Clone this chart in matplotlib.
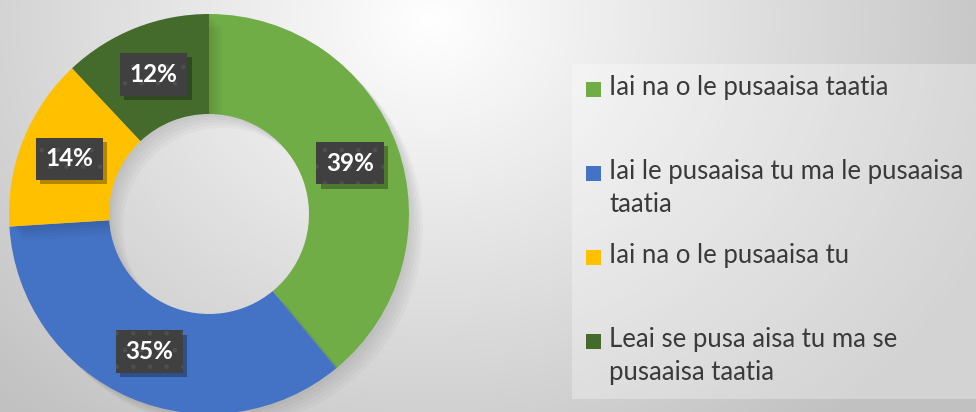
import textwrap
import numpy as np
import matplotlib
matplotlib.use("Agg")
import matplotlib.pyplot as plt
import matplotlib.patheffects as pe
from matplotlib.patches import Rectangle

# ---- data ----
categories = [
    "Iai na o le pusaaisa taatia",
    "Iai le pusaaisa tu ma le pusaaisa taatia",
    "Iai na o le pusaaisa tu",
    "Leai se pusa aisa tu ma se pusaaisa taatia",
]
values = [39, 35, 14, 12]
colors = ["#70AD47", "#4472C4", "#FFC000", "#446A2C"]


class NoHatchShadow(pe.SimplePatchShadow):
    def _update_gc(self, gc, new_gc_dict):
        gc = super()._update_gc(gc, new_gc_dict)
        gc.set_hatch(None)
        return gc


plt.rcParams["hatch.linewidth"] = 0.8
W, H = 976, 412
fig = plt.figure(figsize=(W / 100, H / 100), dpi=100)
ax = fig.add_axes([0, 0, 1, 1])
ax.set_axis_off()

# background radial gradient (y measured from top)
yy, xx = np.mgrid[0:H, 0:W]
d = np.hypot(xx - 430, (yy - 20) / 0.85)
g = np.clip(1.0 - d / 560 * 0.22, 0.76, 1.0)
bg = np.dstack([g, g, g])
ax.imshow(bg, extent=[0, W, 0, H], origin="upper", zorder=0, interpolation="bilinear")

cx, cy, R = 209, H - 214, 200
soft = [pe.SimplePatchShadow(offset=(o, -o), shadow_rgbFace="black", alpha=0.025)
        for o in (2, 4, 6, 8, 10)]
wedges, _ = ax.pie(values, colors=colors, startangle=90, counterclock=False,
                   radius=R, center=(cx, cy),
                   wedgeprops=dict(width=R * 0.5, linewidth=0))
for w in wedges:
    w.set_zorder(2)
    w.set_path_effects(soft + [pe.Normal()])
ax.set_xlim(0, W)
ax.set_ylim(0, H)
ax.set_aspect("equal")

# data labels
for w, v in zip(wedges, values):
    ang = np.deg2rad((w.theta1 + w.theta2) / 2)
    r = R * 0.75
    x = cx + r * np.cos(ang)
    y = cy + r * np.sin(ang)
    t = ax.text(x, y, f"{v}%", color="white", zorder=5, fontsize=17.5,
                fontweight="bold", family=["Lato", "DejaVu Sans"],
                ha="center", va="center",
                bbox=dict(boxstyle="square,pad=0.4", fc="#404040", ec="#4f4f4f",
                          lw=0, hatch="."))
    t.get_bbox_patch().set_path_effects(
        [NoHatchShadow(offset=(3, -3), shadow_rgbFace="black", alpha=0.3), pe.Normal()])

# legend
ax.add_patch(Rectangle((572, H - 399), W - 572, 335, fc="white", alpha=0.3, lw=0, zorder=3))
slot_top = [64, 148, 232, 316]
for i, (lab, col) in enumerate(zip(categories, colors)):
    top = slot_top[i]
    ax.add_patch(Rectangle((586, H - (top + 33)), 15, 15, fc=col, lw=0, zorder=4))
    ax.text(609, H - (top + 11), textwrap.fill(lab, 33), color="#3a3a3a", fontsize=18.5,
            family=["Lato", "DejaVu Sans"], ha="left", va="top", linespacing=1.42,
            zorder=4)

fig.savefig("out.png", dpi=100)
